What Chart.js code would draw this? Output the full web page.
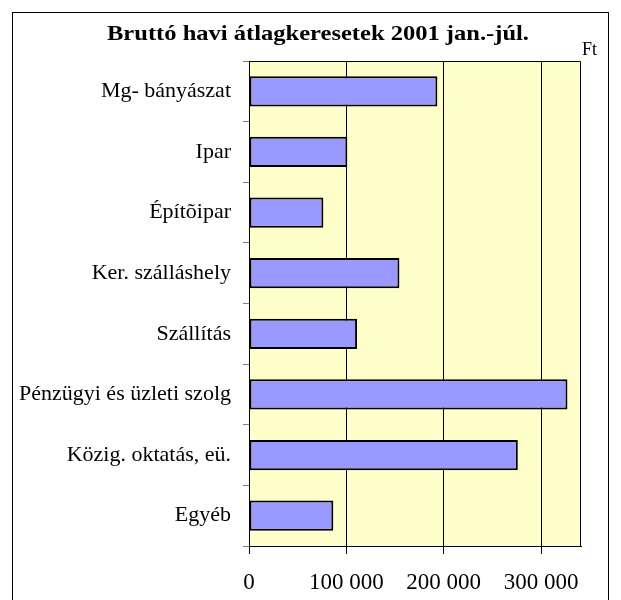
<!DOCTYPE html>
<html>
<head>
<meta charset="utf-8">
<script src="https://cdn.jsdelivr.net/npm/chart.js@4.4.1/dist/chart.umd.min.js"></script>
<style>
  html, body { margin: 0; padding: 0; background: #fff; }
  canvas { display: block; }
</style>
</head>
<body>
<canvas id="chart" width="621" height="600"></canvas>
<script>
/* Bruttó havi átlagkeresetek — horizontal bar */
const TITLE = 'Bruttó havi átlagkeresetek 2001 jan.-júl.';
const UNIT = 'Ft';
const CATEGORIES = [
  'Mg- bányászat',
  'Ipar',
  'Építõipar',
  'Ker. szálláshely',
  'Szállítás',
  'Pénzügyi és üzleti szolg',
  'Közig. oktatás, eü.',
  'Egyéb'
];
const VALUES = [193500, 101000, 76400, 154500, 111000, 327100, 276100, 86600];
const X_TICKS = [0, 100000, 200000, 300000];
const X_MAX = 341000;

const SERIF = '"Liberation Serif", "Times New Roman", serif';

function fmt(v) { return String(v).replace(/\B(?=(\d{3})+(?!\d))/g, ' '); }

// plot background, frame, title, unit
const decor = {
  id: 'decor',
  beforeDraw(chart) {
    const { ctx, chartArea: a } = chart;
    ctx.save();
    ctx.fillStyle = '#fff';
    ctx.fillRect(0, 0, chart.width, chart.height);
    ctx.strokeStyle = '#000';
    ctx.lineWidth = 1;
    ctx.strokeRect(12.5, 12.5, 596, 600);
    ctx.fillStyle = '#FFFFCC';
    ctx.fillRect(a.left, a.top, a.right - a.left, a.bottom - a.top);
    ctx.restore();
  },
  afterDraw(chart) {
    const { ctx, chartArea: a } = chart;
    ctx.save();
    ctx.strokeStyle = '#000';
    ctx.lineWidth = 1;
    ctx.beginPath();
    ctx.moveTo(a.left, a.top + 0.5);
    ctx.lineTo(a.right - 0.5, a.top + 0.5);
    ctx.lineTo(a.right - 0.5, a.bottom);
    ctx.stroke();
    ctx.fillStyle = '#000';
    // title is a bit wide in the original, stretch it horizontally
    ctx.save();
    ctx.translate(318, 40);
    ctx.scale(1.115, 1);
    ctx.textAlign = 'center';
    ctx.textBaseline = 'alphabetic';
    ctx.font = 'bold 22px ' + SERIF;
    ctx.fillText(TITLE, 0, 0);
    ctx.restore();
    ctx.textAlign = 'left';
    ctx.font = '18px ' + SERIF;
    ctx.fillText(UNIT, 582, 55);
    ctx.restore();
  }
};

new Chart(document.getElementById('chart'), {
  type: 'bar',
  data: {
    labels: CATEGORIES,
    datasets: [{
      data: VALUES,
      backgroundColor: '#9999FF',
      borderColor: '#000',
      borderWidth: 2,
      borderSkipped: false,
      categoryPercentage: 1,
      barPercentage: 0.5
    }]
  },
  options: {
    indexAxis: 'y',
    responsive: false,
    animation: false,
    layout: { padding: { left: 0, top: 61, right: 40, bottom: 0 } },
    plugins: { legend: { display: false }, tooltip: { enabled: false } },
    scales: {
      x: {
        min: 0, max: X_MAX,
        afterFit: s => { s.height = 54; },
        afterBuildTicks: s => { s.ticks = X_TICKS.map(v => ({ value: v })); },
        grid: { color: '#000', lineWidth: 1, tickLength: 8 },
        border: { color: '#000', width: 1 },
        ticks: {
          color: '#000', padding: 15, maxRotation: 0,
          font: { family: SERIF, size: 23 },
          callback: v => fmt(v)
        }
      },
      y: {
        afterFit: s => { s.width = 249; },
        grid: { drawOnChartArea: false, offset: true, color: '#808080', tickLength: 6 },
        border: { color: '#000', width: 1 },
        ticks: { color: '#000', padding: 12, font: { family: SERIF, size: 22 } }
      }
    }
  },
  plugins: [decor]
});
</script>
</body>
</html>
